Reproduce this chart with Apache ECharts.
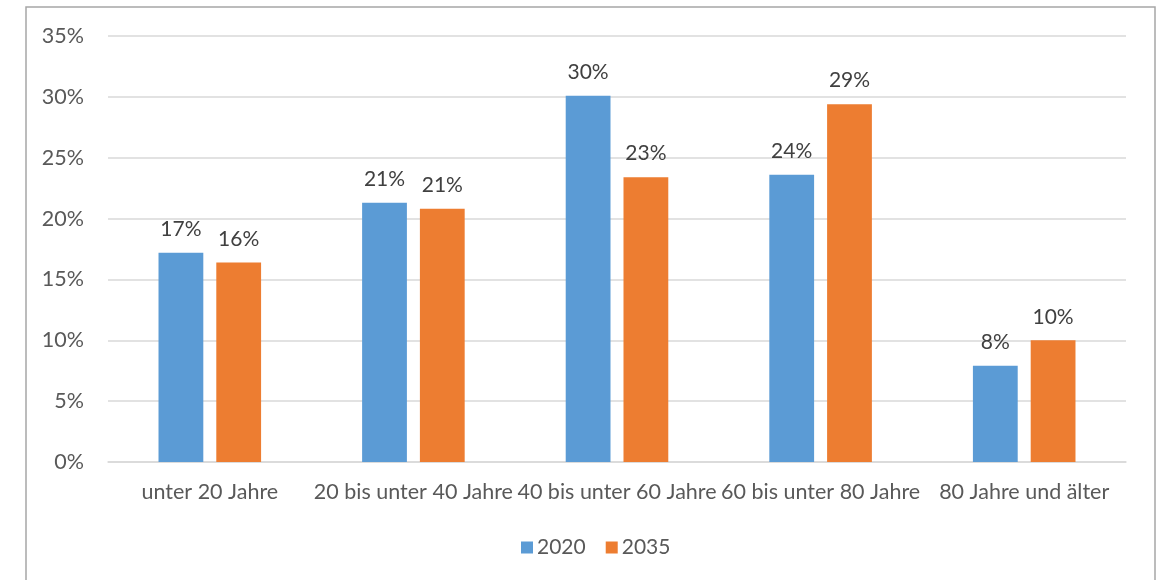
<!DOCTYPE html>
<html>
<head>
<meta charset="utf-8">
<script src="https://cdn.jsdelivr.net/npm/echarts@6/dist/echarts.min.js"></script>
<style>
  html, body { margin: 0; padding: 0; background: #ffffff; }
  #chart { width: 1169px; height: 580px; }
</style>
</head>
<body>
<div id="chart"></div>
<script>
// Altersgruppen und Anteile (in Prozent)
const categories = ['unter 20 Jahre', '20 bis unter 40 Jahre', '40 bis unter 60 Jahre', '60 bis unter 80 Jahre', '80 Jahre und älter'];
const series2020 = [17.2, 21.3, 30.1, 23.6, 7.9];
const series2035 = [16.4, 20.8, 23.4, 29.4, 10.0];
const seriesNames = ['2020', '2035'];
const yTicks = { min: 0, max: 35, interval: 5 };

const FONT = 'Lato, "Liberation Sans", sans-serif';
const TEXT = '#595959';

const labelStyle = {
  show: true,
  position: 'top',
  distance: 13,
  color: '#404040',
  fontFamily: FONT,
  fontSize: 21,
  formatter: p => Math.round(p.value) + '%'
};

const chart = echarts.init(document.getElementById('chart'));
chart.setOption({
  backgroundColor: '#ffffff',
  animation: false,
  graphic: [{
    type: 'rect',
    shape: { x: 26, y: 7, width: 1129, height: 620 },
    style: { fill: 'none', stroke: '#a6a6a6', lineWidth: 1.5 },
    silent: true
  }],
  grid: { left: 108, right: 43, top: 36, bottom: 118 },
  legend: {
    data: seriesNames,
    bottom: 17,
    left: 516,
    itemWidth: 12,
    itemHeight: 12,
    itemGap: 20,
    icon: 'rect',
    textStyle: { color: TEXT, fontFamily: FONT, fontSize: 21, padding: [0, 0, 0, -1] }
  },
  xAxis: {
    type: 'category',
    data: categories,
    axisLine: { lineStyle: { color: '#d9d9d9', width: 1.5 } },
    axisTick: { show: false },
    axisLabel: { color: TEXT, fontFamily: FONT, fontSize: 21.5, margin: 19, interval: 0 }
  },
  yAxis: {
    type: 'value',
    min: yTicks.min,
    max: yTicks.max,
    interval: yTicks.interval,
    axisLine: { show: false },
    axisTick: { show: false },
    splitLine: { lineStyle: { color: '#d9d9d9', width: 1.5 } },
    axisLabel: { color: TEXT, fontFamily: FONT, fontSize: 21.5, margin: 24, formatter: v => v + '%' }
  },
  series: [
    {
      name: seriesNames[0],
      type: 'bar',
      data: series2020,
      barWidth: '22%',
      barGap: '29%',
      itemStyle: { color: '#5B9BD5' },
      label: labelStyle
    },
    {
      name: seriesNames[1],
      type: 'bar',
      data: series2035,
      barWidth: '22%',
      itemStyle: { color: '#ED7D31' },
      label: labelStyle
    }
  ]
});
</script>
</body>
</html>
